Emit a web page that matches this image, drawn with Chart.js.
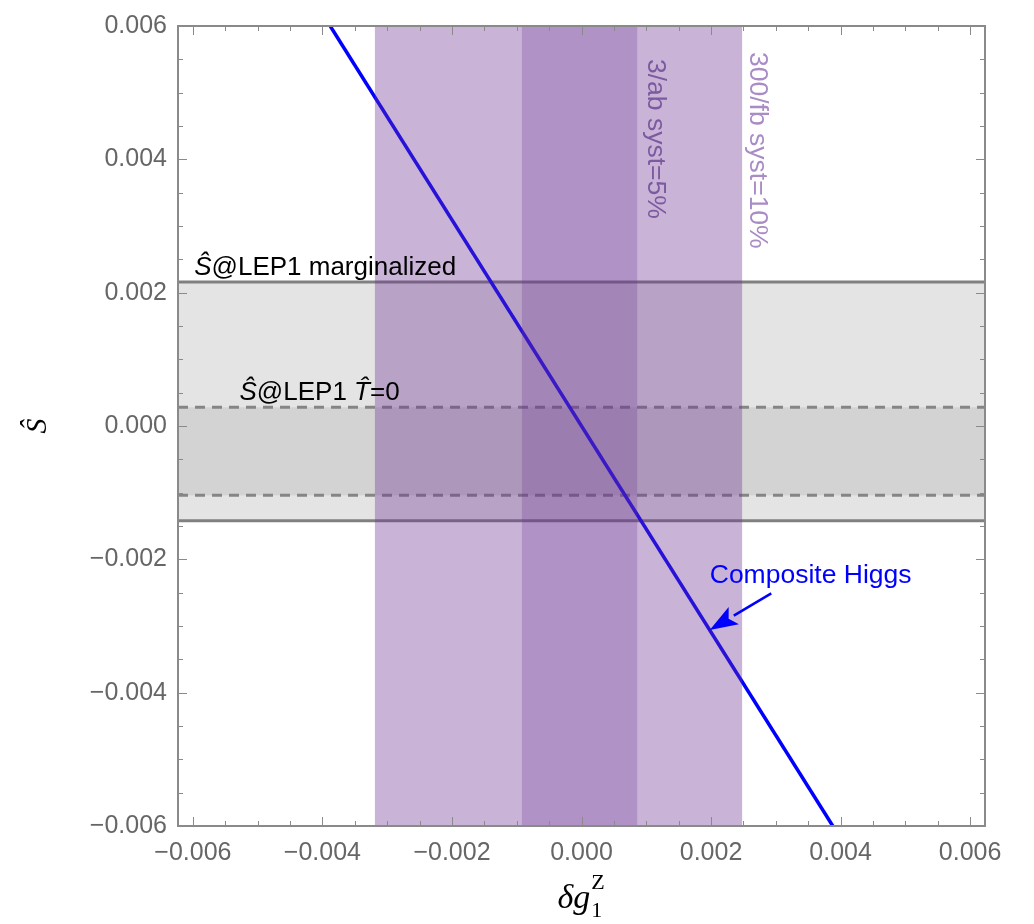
<!DOCTYPE html>
<html>
<head>
<meta charset="utf-8">
<script src="https://cdn.jsdelivr.net/npm/chart.js@4.4.0/dist/chart.umd.min.js"></script>
<style>
  html, body { margin: 0; padding: 0; background: #fff; }
  #wrap { width: 1034px; height: 924px; }
</style>
</head>
<body>
<div id="wrap"><canvas id="chart" width="1034" height="924"></canvas></div>
<script>
// axis ranges
const xRange = [-0.00623, 0.00623];
const yRange = [-0.006, 0.006];
const tickStep = 0.0005;
const labelStep = 0.002;

// Composite Higgs line
const higgsX = [-0.00388, 0.00388];
const higgsY = [0.006, -0.006];

// S-hat bounds from LEP1
const sMarginalized = [-0.00142, 0.00216];
const sTzero = [-0.00104, 0.00028];

// delta g1Z bands
const band300fb = [-0.00319, 0.00248];
const band3ab = [-0.00092, 0.00086];

// annotation for the arrow (tail, tip) and label anchor
const arrowX = [0.00293, 0.00198];
const arrowY = [-0.00251, -0.00306];
const higgsLabel = [0.00198, -0.00224];

const GRAY_TXT = '#666666';
const FRAME = '#8a8a8a';
const PURPLE = 'rgba(109,50,147,0.37)';
const PURPLE_IN = 'rgba(109,50,147,0.26)';
const SANS = '"Liberation Sans", Arial, sans-serif';
const SERIF = '"Liberation Serif", "DejaVu Serif", serif';

function fmt(v) {
  const s = Math.abs(v).toFixed(3);
  return v < -1e-9 ? '\u2212' + s : s;
}
function isMajor(v) {
  const q = v / labelStep;
  return Math.abs(q - Math.round(q)) < 1e-6;
}

const bandsBelow = {
  id: 'bandsBelow',
  beforeDatasetsDraw(chart) {
    const { ctx, chartArea: a, scales: { x, y } } = chart;
    ctx.save();
    ctx.beginPath();
    ctx.rect(a.left, a.top, a.right - a.left, a.bottom - a.top);
    ctx.clip();
    // gray bands
    let t = y.getPixelForValue(sMarginalized[1]), b = y.getPixelForValue(sMarginalized[0]);
    ctx.fillStyle = '#e4e4e4';
    ctx.fillRect(a.left, t, a.right - a.left, b - t);
    t = y.getPixelForValue(sTzero[1]); b = y.getPixelForValue(sTzero[0]);
    ctx.fillStyle = '#d3d3d3';
    ctx.fillRect(a.left, t, a.right - a.left, b - t);
    // boundary lines
    ctx.strokeStyle = '#808080';
    ctx.lineWidth = 3;
    sMarginalized.forEach(v => {
      const p = y.getPixelForValue(v);
      ctx.beginPath(); ctx.moveTo(a.left, p); ctx.lineTo(a.right, p); ctx.stroke();
    });
    ctx.strokeStyle = '#858585';
    ctx.setLineDash([10, 7]);
    sTzero.forEach(v => {
      const p = y.getPixelForValue(v);
      ctx.beginPath(); ctx.moveTo(a.left, p); ctx.lineTo(a.right, p); ctx.stroke();
    });
    ctx.restore();
  }
};

const bandsAbove = {
  id: 'bandsAbove',
  afterDatasetsDraw(chart) {
    const { ctx, chartArea: a, scales: { x, y } } = chart;
    ctx.save();
    let l = x.getPixelForValue(band300fb[0]), r = x.getPixelForValue(band300fb[1]);
    ctx.fillStyle = PURPLE;
    ctx.fillRect(l, a.top, r - l, a.bottom - a.top);
    l = x.getPixelForValue(band3ab[0]); r = x.getPixelForValue(band3ab[1]);
    ctx.fillStyle = PURPLE_IN;
    ctx.fillRect(l, a.top, r - l, a.bottom - a.top);

    // frame and inward ticks
    ctx.strokeStyle = FRAME;
    ctx.lineWidth = 2;
    ctx.strokeRect(a.left, a.top, a.right - a.left, a.bottom - a.top);
    ctx.lineWidth = 1;
    x.ticks.forEach(tk => {
      const p = Math.round(x.getPixelForValue(tk.value)) + 0.5;
      const len = isMajor(tk.value) ? 9 : 5;
      ctx.beginPath();
      ctx.moveTo(p, a.bottom); ctx.lineTo(p, a.bottom - len);
      ctx.moveTo(p, a.top); ctx.lineTo(p, a.top + len);
      ctx.stroke();
    });
    y.ticks.forEach(tk => {
      const p = Math.round(y.getPixelForValue(tk.value)) + 0.5;
      const len = isMajor(tk.value) ? 9 : 5;
      ctx.beginPath();
      ctx.moveTo(a.left, p); ctx.lineTo(a.left + len, p);
      ctx.moveTo(a.right, p); ctx.lineTo(a.right - len, p);
      ctx.stroke();
    });

    // band labels, rotated
    ctx.font = '26.5px ' + SANS;
    ctx.textBaseline = 'middle';
    ctx.textAlign = 'left';
    ctx.save();
    ctx.translate(x.getPixelForValue(band3ab[1]) + 18, a.top + 33);
    ctx.rotate(Math.PI / 2);
    ctx.fillStyle = '#7b5aa0';
    ctx.fillText('3/ab syst=5%', 0, 0);
    ctx.restore();
    ctx.save();
    ctx.translate(x.getPixelForValue(band300fb[1]) + 15, a.top + 26);
    ctx.rotate(Math.PI / 2);
    ctx.fillStyle = '#a98bc6';
    ctx.fillText('300/fb syst=10%', 0, 0);
    ctx.restore();

    // LEP1 labels
    const lf = '26px ' + SANS, lfi = 'italic 26px ' + SANS;
    ctx.fillStyle = '#000';
    ctx.textBaseline = 'alphabetic';
    let px = x.getPixelForValue(-0.00598), py = y.getPixelForValue(sMarginalized[1]) - 7;
    ctx.font = lfi;
    ctx.fillText('\u015C', px, py);
    px += ctx.measureText('\u015C').width;
    ctx.font = lf;
    ctx.fillText('@LEP1 marginalized', px, py);

    px = x.getPixelForValue(-0.00528); py = y.getPixelForValue(sTzero[1]) - 7;
    ctx.font = lfi;
    ctx.fillText('\u015C', px, py);
    px += ctx.measureText('\u015C').width;
    ctx.font = lf;
    const s1 = '@LEP1 ';
    ctx.fillText(s1, px, py);
    px += ctx.measureText(s1).width;
    ctx.font = lfi;
    ctx.fillText('T', px, py);
    const tw = ctx.measureText('T').width;
    ctx.fillText('\u02C6', px + tw * 0.35, py - 5);
    px += tw;
    ctx.font = lf;
    ctx.fillText('=0', px, py);

    // Composite Higgs label + arrow
    ctx.fillStyle = '#0000ff';
    ctx.strokeStyle = '#0000ff';
    ctx.font = '26.5px ' + SANS;
    ctx.textBaseline = 'middle';
    ctx.fillText('Composite Higgs', x.getPixelForValue(higgsLabel[0]), y.getPixelForValue(higgsLabel[1]));
    const x0 = x.getPixelForValue(arrowX[0]), y0 = y.getPixelForValue(arrowY[0]);
    const x1 = x.getPixelForValue(arrowX[1]), y1 = y.getPixelForValue(arrowY[1]);
    const ang = Math.atan2(y1 - y0, x1 - x0);
    const hl = 28, hw = 10;
    const bx = x1 - hl * Math.cos(ang), by = y1 - hl * Math.sin(ang);
    ctx.lineWidth = 2.5;
    ctx.beginPath(); ctx.moveTo(x0, y0); ctx.lineTo(bx, by); ctx.stroke();
    ctx.beginPath();
    ctx.moveTo(x1, y1);
    ctx.lineTo(bx + hw * Math.sin(ang), by - hw * Math.cos(ang));
    ctx.lineTo(bx + 6 * Math.cos(ang), by + 6 * Math.sin(ang));
    ctx.lineTo(bx - hw * Math.sin(ang), by + hw * Math.cos(ang));
    ctx.closePath();
    ctx.fill();

    // axis titles
    ctx.fillStyle = '#000';
    ctx.save();
    ctx.translate(38, (a.top + a.bottom) / 2);
    ctx.rotate(-Math.PI / 2);
    ctx.textAlign = 'center';
    ctx.textBaseline = 'middle';
    ctx.font = 'italic 30px ' + SERIF;
    ctx.fillText('\u015C', 0, 0);
    ctx.restore();

    ctx.textBaseline = 'alphabetic';
    ctx.textAlign = 'left';
    let cx = (a.left + a.right) / 2 - 24, cy = 908;
    ctx.font = 'italic 34px ' + SERIF;
    ctx.fillText('\u03B4g', cx, cy);
    cx += ctx.measureText('\u03B4g').width + 1;
    ctx.font = '22px ' + SERIF;
    ctx.fillText('1', cx, cy + 9);
    ctx.fillText('Z', cx, cy - 19);
    ctx.restore();
  }
};

new Chart(document.getElementById('chart'), {
  type: 'scatter',
  data: {
    datasets: [{
      label: 'Composite Higgs',
      data: higgsX.map((v, i) => ({ x: v, y: higgsY[i] })),
      showLine: true,
      borderColor: '#0000ff',
      borderWidth: 3.5,
      pointRadius: 0,
      fill: false
    }]
  },
  options: {
    responsive: false,
    animation: false,
    layout: { padding: { top: 21, right: 49, left: 0, bottom: 0 } },
    plugins: { legend: { display: false }, tooltip: { enabled: false } },
    scales: {
      x: {
        type: 'linear',
        min: xRange[0], max: xRange[1],
        grid: { display: false, drawTicks: false },
        border: { display: false },
        afterFit: s => { s.height = 98; },
        ticks: {
          stepSize: tickStep, includeBounds: false, autoSkip: false,
          maxRotation: 0, padding: 12, color: GRAY_TXT,
          font: { family: SANS, size: 25 },
          callback: v => isMajor(v) ? fmt(v) : ''
        }
      },
      y: {
        type: 'linear',
        min: yRange[0], max: yRange[1],
        grid: { display: false, drawTicks: false },
        border: { display: false },
        afterFit: s => { s.width = 178; },
        ticks: {
          stepSize: tickStep, includeBounds: false, autoSkip: false,
          padding: 11, color: GRAY_TXT,
          font: { family: SANS, size: 25 },
          callback: v => isMajor(v) ? fmt(v) : ''
        }
      }
    }
  },
  plugins: [bandsBelow, bandsAbove]
});
</script>
</body>
</html>
